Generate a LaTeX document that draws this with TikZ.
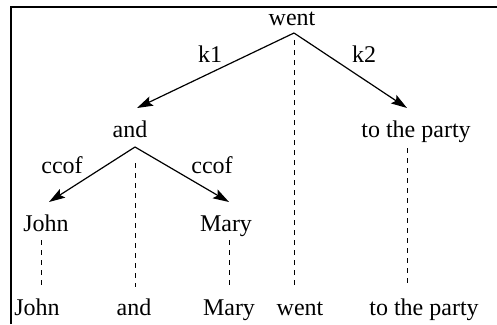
\documentclass[tikz,border=0pt]{standalone}
\usepackage{fontspec}
\setmainfont{Liberation Serif}
\newfontfamily\treefont{Liberation Serif}
\usetikzlibrary{arrows.meta}
\begin{document}
\begin{tikzpicture}[x=1pt,y=-1pt,
  word/.style={anchor=base,inner sep=0pt,font=\treefont\fontsize{24}{28}\selectfont},
  rel/.style={anchor=base,inner sep=0pt,font=\treefont\fontsize{24}{28}\selectfont},
  dep/.style={line width=1.2pt,-{Stealth[length=16pt,width=10pt,inset=3pt]}},
  link/.style={line width=0.9pt,dash pattern=on 5pt off 5pt},
  frame/.style={line width=2.2pt}]
\useasboundingbox (0,0) rectangle (497,324);

% open frame: top and left edges only
\coordinate (fTL) at (11,7);
\coordinate (fTR) at (497,7);
\coordinate (fBL) at (11,324);
\draw[frame] (fBL) -- (fTL) -- (fTR);

% tree nodes
\node[word] (went) at (292,25) {went};
\node[word] (and) at (130,137) {and};
\node[word] (party) at (416,137) {to the party};
\node[word] (john) at (46,231) {John};
\node[word] (mary) at (226,231) {Mary};

% sentence row
\node[word] (sJohn) at (37,315) {John};
\node[word] (sAnd) at (134,315) {and};
\node[word] (sMary) at (229,315) {Mary};
\node[word] (sWent) at (300,315) {went};
\node[word] (sParty) at (424,315) {to the party};

% arc attachment points
\coordinate (wentFoot) at (294,33);
\coordinate (andHead) at (137,108);
\coordinate (partyHead) at (407,108);
\coordinate (andFoot) at (135,147);
\coordinate (johnHead) at (49,202);
\coordinate (maryHead) at (229,202);

% dependency arcs
\draw[dep] (wentFoot) -- (andHead);
\draw[dep] (wentFoot) -- (partyHead);
\draw[dep] (andFoot) -- (johnHead);
\draw[dep] (andFoot) -- (maryHead);

% arc labels
\node[rel] (k1) at (210,62) {k1};
\node[rel] (k2) at (364,62) {k2};
\node[rel] (c1) at (62,173) {ccof};
\node[rel] (c2) at (212,173) {ccof};

% projection lines down to the words
\coordinate (wentLow) at (294,40);
\coordinate (wentEnd) at (294,287);
\coordinate (andLow) at (135,163);
\coordinate (andEnd) at (135,287);
\coordinate (partyLow) at (407,148);
\coordinate (partyEnd) at (407,287);
\coordinate (johnLow) at (41,240);
\coordinate (johnEnd) at (41,287);
\coordinate (maryLow) at (229,240);
\coordinate (maryEnd) at (229,287);
\draw[link] (wentLow) -- (wentEnd);
\draw[link] (andLow) -- (andEnd);
\draw[link] (partyLow) -- (partyEnd);
\draw[link] (johnLow) -- (johnEnd);
\draw[link] (maryLow) -- (maryEnd);
\end{tikzpicture}
\end{document}
